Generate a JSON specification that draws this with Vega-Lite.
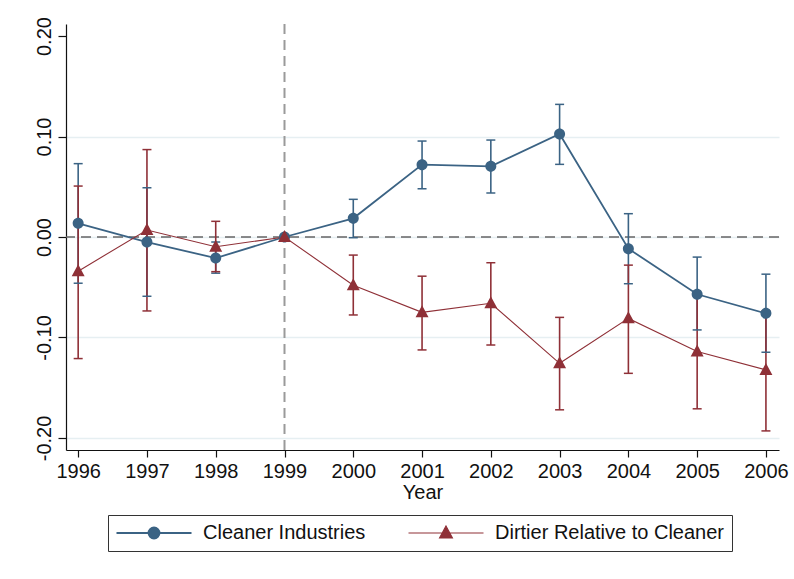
{
  "$schema": "https://vega.github.io/schema/vega-lite/v6.json",
  "autosize": "none",
  "width": 713,
  "height": 426,
  "padding": {"left": 66, "top": 24, "right": 15, "bottom": 129},
  "background": "white",
  "config": {
    "view": {"stroke": null},
    "font": "Liberation Sans",
    "axis": {"labelFont": "Liberation Sans", "titleFont": "Liberation Sans", "labelColor": "#111", "titleColor": "#111", "domainColor": "#111", "tickColor": "#111", "titleFontWeight": "normal"},
    "legend": {"labelFont": "Liberation Sans"}
  },
  "data": {"values": [
    {"year": 1996, "series": "Cleaner Industries", "est": 0.0136, "lo": -0.046, "hi": 0.073},
    {"year": 1997, "series": "Cleaner Industries", "est": -0.005, "lo": -0.059, "hi": 0.049},
    {"year": 1998, "series": "Cleaner Industries", "est": -0.021, "lo": -0.036, "hi": -0.005},
    {"year": 1999, "series": "Cleaner Industries", "est": 0.0, "lo": 0.0, "hi": 0.0},
    {"year": 2000, "series": "Cleaner Industries", "est": 0.0186, "lo": -0.0007, "hi": 0.0375},
    {"year": 2001, "series": "Cleaner Industries", "est": 0.072, "lo": 0.048, "hi": 0.0955},
    {"year": 2002, "series": "Cleaner Industries", "est": 0.0703, "lo": 0.0438, "hi": 0.0965},
    {"year": 2003, "series": "Cleaner Industries", "est": 0.1025, "lo": 0.0723, "hi": 0.132},
    {"year": 2004, "series": "Cleaner Industries", "est": -0.0116, "lo": -0.0465, "hi": 0.0232},
    {"year": 2005, "series": "Cleaner Industries", "est": -0.057, "lo": -0.0925, "hi": -0.020},
    {"year": 2006, "series": "Cleaner Industries", "est": -0.076, "lo": -0.1147, "hi": -0.037},
    {"year": 1996, "series": "Dirtier Relative to Cleaner", "est": -0.034, "lo": -0.121, "hi": 0.0507},
    {"year": 1997, "series": "Dirtier Relative to Cleaner", "est": 0.007, "lo": -0.0736, "hi": 0.087},
    {"year": 1998, "series": "Dirtier Relative to Cleaner", "est": -0.0097, "lo": -0.0345, "hi": 0.0156},
    {"year": 1999, "series": "Dirtier Relative to Cleaner", "est": 0.0, "lo": 0.0, "hi": 0.0},
    {"year": 2000, "series": "Dirtier Relative to Cleaner", "est": -0.048, "lo": -0.0776, "hi": -0.018},
    {"year": 2001, "series": "Dirtier Relative to Cleaner", "est": -0.075, "lo": -0.1124, "hi": -0.039},
    {"year": 2002, "series": "Dirtier Relative to Cleaner", "est": -0.066, "lo": -0.1075, "hi": -0.0256},
    {"year": 2003, "series": "Dirtier Relative to Cleaner", "est": -0.1257, "lo": -0.172, "hi": -0.080},
    {"year": 2004, "series": "Dirtier Relative to Cleaner", "est": -0.081, "lo": -0.1357, "hi": -0.028},
    {"year": 2005, "series": "Dirtier Relative to Cleaner", "est": -0.114, "lo": -0.171, "hi": -0.057},
    {"year": 2006, "series": "Dirtier Relative to Cleaner", "est": -0.1323, "lo": -0.193, "hi": -0.0736}
  ]},
  "layer": [
    {
      "mark": {"type": "rule", "strokeDash": [10, 6], "strokeWidth": 2, "color": "#9a9a9a"},
      "data": {"values": [{"xv": 1999}]},
      "encoding": {"x": {"field": "xv", "type": "quantitative", "scale": {"domain": [1995.823, 2006.19], "nice": false, "zero": false}}}
    },
    {
      "mark": {"type": "rule", "strokeDash": [10, 6], "strokeWidth": 1.5, "color": "#666666"},
      "data": {"values": [{"yv": 0}]},
      "encoding": {"y": {"field": "yv", "type": "quantitative"}}
    },
    {
      "mark": {"type": "rule", "strokeWidth": 1.6, "opacity": 1},
      "encoding": {
        "x": {"field": "year", "type": "quantitative"},
        "y": {"field": "lo", "type": "quantitative"},
        "y2": {"field": "hi"},
        "color": {"field": "series", "type": "nominal", "scale": {"domain": ["Cleaner Industries", "Dirtier Relative to Cleaner"], "range": ["#3b6384", "#8f3037"]}}
      }
    },
    {
      "mark": {"type": "tick", "orient": "horizontal", "size": 9, "thickness": 1.5, "opacity": 1},
      "encoding": {
        "x": {"field": "year", "type": "quantitative"},
        "y": {"field": "lo", "type": "quantitative"},
        "color": {"field": "series", "type": "nominal"}
      }
    },
    {
      "mark": {"type": "tick", "orient": "horizontal", "size": 9, "thickness": 1.5, "opacity": 1},
      "encoding": {
        "x": {"field": "year", "type": "quantitative"},
        "y": {"field": "hi", "type": "quantitative"},
        "color": {"field": "series", "type": "nominal"}
      }
    },
    {
      "mark": {"type": "line", "opacity": 1},
      "encoding": {
        "x": {"field": "year", "type": "quantitative"},
        "y": {"field": "est", "type": "quantitative"},
        "color": {"field": "series", "type": "nominal"},
        "strokeWidth": {"field": "series", "type": "nominal", "scale": {"domain": ["Cleaner Industries", "Dirtier Relative to Cleaner"], "range": [1.8, 1.1]}, "legend": null}
      }
    },
    {
      "mark": {"type": "point", "filled": true, "opacity": 1, "size": 144, "strokeWidth": 1.6, "strokeOpacity": 0},
      "encoding": {
        "x": {"field": "year", "type": "quantitative", "scale": {"domain": [1995.823, 2006.19], "nice": false, "zero": false},
          "axis": {"values": [1996, 1997, 1998, 1999, 2000, 2001, 2002, 2003, 2004, 2005, 2006], "format": "d", "title": "Year", "labelFontSize": 20, "titleFontSize": 20, "tickSize": 7, "labelPadding": 4, "titlePadding": 1, "grid": false, "domainWidth": 1.2, "tickWidth": 1.2}},
        "y": {"field": "est", "type": "quantitative", "scale": {"domain": [-0.212, 0.212], "nice": false},
          "axis": {"values": [-0.2, -0.1, 0, 0.1, 0.2], "labelExpr": "datum.value < 0 ? '-' + format(-datum.value, '.2f') : format(datum.value, '.2f')", "title": null, "labelFontSize": 20, "labelAngle": -90, "labelAlign": "center", "labelBaseline": "alphabetic", "labelPadding": 8, "tickSize": 8, "domainWidth": 1.2, "tickWidth": 1.2, "grid": true, "gridColor": {"condition": {"test": "datum.value > 0.15", "value": "transparent"}, "value": "#e6eff2"}, "gridWidth": 1.5}},
        "color": {"field": "series", "type": "nominal", "title": null,
          "legend": {"orient": "none", "legendX": 42, "legendY": 491, "direction": "horizontal", "columns": 2, "strokeColor": "#333", "padding": 8, "labelFontSize": 20, "labelColor": "#111", "labelLimit": 400, "labelOffset": 39, "symbolOffset": 28, "columnPadding": 40, "symbolSize": 144, "symbolStrokeWidth": 1.6, "symbolOpacity": 1,
            "encode": {"symbols": {"update": {"size": {"value": 144}, "stroke": {"scale": "color", "field": "value"}, "strokeOpacity": {"value": 1}, "opacity": {"value": 1}, "fillOpacity": {"value": 1}}}}}},
        "shape": {"field": "series", "type": "nominal", "scale": {"domain": ["Cleaner Industries", "Dirtier Relative to Cleaner"], "range": [
          "M-6.25,0H6.25M-0.917,0A0.917,0.917 0 1,0 0.917,0A0.917,0.917 0 1,0 -0.917,0Z",
          "M-6.25,0H6.25M0,-1.17L1.08,0.83L-1.08,0.83Z"]}, "title": null}
      }
    }
  ]
}
